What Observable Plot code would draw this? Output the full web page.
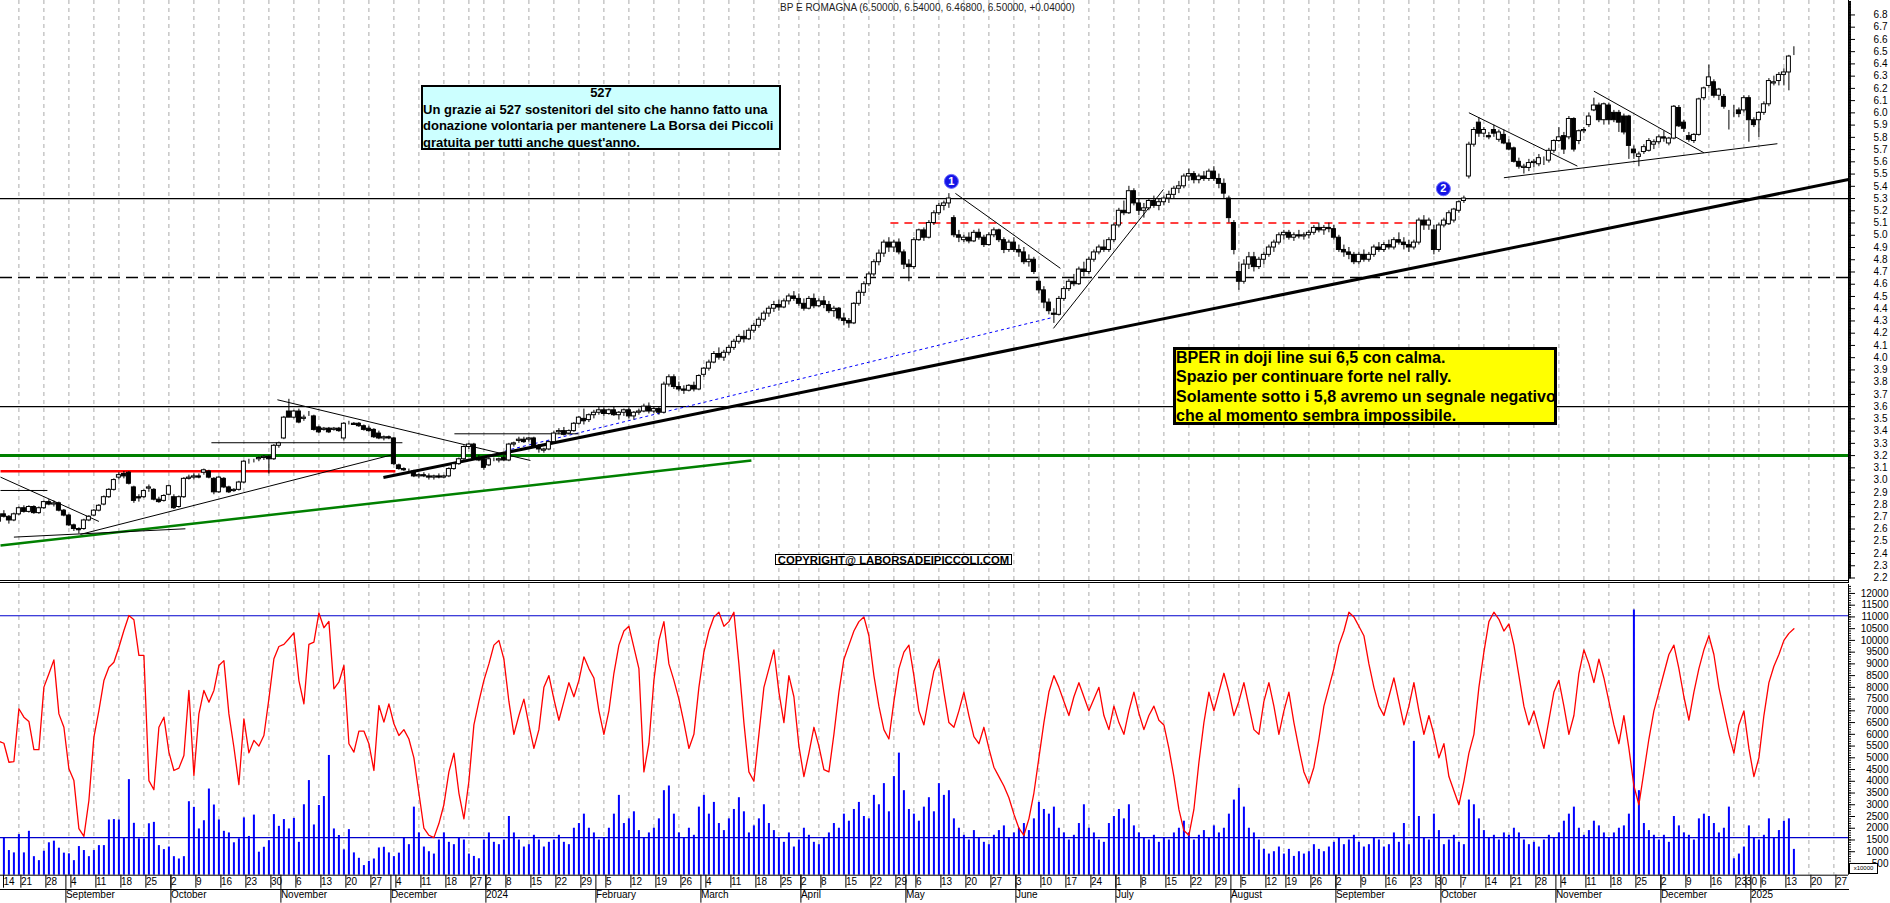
<!DOCTYPE html>
<html><head><meta charset="utf-8">
<script src="https://cdn.jsdelivr.net/npm/d3@7"></script>
<script src="https://cdn.jsdelivr.net/npm/@observablehq/plot@0.6"></script>
<style>
body{margin:0;background:#fff;}
#wrap{position:relative;width:1890px;height:903px;overflow:hidden;font-family:"Liberation Sans",Arial,sans-serif;background:#fff;}
#topc,#botc{position:absolute;left:0;}
#topc{top:0;} #botc{top:584px;}
.hl{position:absolute;left:0;width:1849px;height:1px;background:#000;}
.ov{position:absolute;white-space:nowrap;}
</style></head><body><div id="wrap">
<div id="topc"></div><div id="botc"></div>
<div class="hl" style="top:580px"></div><div class="hl" style="top:582px"></div>
<div class="hl" style="top:889px"></div>
<div class="ov" style="left:780px;top:2px;font-size:10px;color:#222;">BP E ROMAGNA (6.50000, 6.54000, 6.46800, 6.50000, +0.04000)</div>
<div class="ov" style="left:421px;top:85px;width:356px;height:61px;border:2.5px solid #000;background:#ccffff;font-weight:bold;font-size:13px;line-height:16.5px;"><div style="text-align:center;margin-top:-2px;">527</div><div>Un grazie ai 527 sostenitori del sito che hanno fatto una</div><div>donazione volontaria per mantenere La Borsa dei Piccoli</div><div>gratuita per tutti anche quest'anno.</div></div>
<div class="ov" style="left:1173px;top:347px;width:378px;height:72px;border:3px solid #000;background:#ffff00;font-weight:bold;font-size:16px;line-height:19.4px;"><div style="margin-top:-2px;">BPER in doji line sui 6,5 con calma.</div><div>Spazio per continuare forte nel rally.</div><div>Solamente sotto i 5,8 avremo un segnale negativo</div><div>che al momento sembra impossibile.</div></div>
<div class="ov" style="left:775px;top:554px;width:235px;height:9px;border:1.5px solid #000;background:#fff;font-weight:bold;font-size:11.3px;line-height:10px;text-align:center;">COPYRIGHT@ LABORSADEIPICCOLI.COM</div>
<div class="ov" style="left:1849px;top:863px;width:27px;height:9px;border:1px solid #000;background:#fff;font-size:6px;line-height:9px;text-align:center;">x10000</div>
</div>
<script>
// ---- calendar ----
const startDate = "2023-08-14", endDate = "2025-01-31";
const holidays = ["2023-12-25","2023-12-26","2024-01-01","2024-03-29","2024-04-01","2024-05-01","2024-08-15","2024-12-24","2024-12-25","2024-12-26","2024-12-31","2025-01-01"];
const monthNames = ["January","February","March","April","May","June","July","August","September","October","November","December"];

// ---- daily prices (one value per trading day) ----
const open = [
2.70,2.66,2.72,2.70,2.67,2.72,2.77,2.74,2.78,2.73,
2.77,2.82,2.80,2.81,2.75,2.71,2.63,2.60,2.60,2.67,
2.71,2.75,2.80,2.86,2.92,3.02,3.05,3.06,2.94,2.86,
2.86,2.93,2.92,2.84,2.83,2.88,2.86,2.78,2.86,3.01,
3.02,3.03,3.06,3.07,3.01,2.90,3.01,2.94,2.91,2.92,
2.98,3.15,3.16,3.17,3.18,3.19,3.17,3.28,3.34,3.56,
3.51,3.56,3.50,3.54,3.52,3.43,3.41,3.42,3.41,3.42,
3.34,3.46,3.46,3.46,3.44,3.42,3.41,3.38,3.34,3.35,
3.34,3.12,3.09,3.08,3.07,3.03,3.04,3.03,3.02,3.03,
3.02,3.03,3.09,3.13,3.17,3.27,3.29,3.18,3.17,3.12,
3.17,3.16,3.18,3.16,3.29,3.32,3.33,3.33,3.34,3.27,
3.24,3.25,3.31,3.39,3.40,3.38,3.40,3.46,3.50,3.49,
3.53,3.55,3.57,3.54,3.57,3.53,3.55,3.57,3.52,3.55,
3.56,3.60,3.56,3.58,3.55,3.78,3.84,3.76,3.74,3.73,
3.77,3.74,3.86,3.91,3.96,4.03,4.00,4.04,4.08,4.13,
4.17,4.15,4.22,4.26,4.31,4.36,4.40,4.43,4.41,4.46,
4.50,4.48,4.44,4.40,4.48,4.42,4.46,4.43,4.38,4.40,
4.32,4.30,4.28,4.44,4.53,4.60,4.68,4.78,4.85,4.94,
4.90,4.94,4.86,4.76,4.74,4.96,5.04,4.98,5.10,5.18,
5.24,5.26,5.14,5.00,4.96,4.98,4.95,5.02,4.98,4.92,
5.00,5.04,4.96,4.88,4.94,4.88,4.86,4.78,4.80,4.62,
4.55,4.45,4.36,4.35,4.48,4.56,4.62,4.60,4.72,4.70,
4.80,4.86,4.90,4.88,4.96,5.08,5.20,5.18,5.36,5.26,
5.20,5.22,5.28,5.24,5.27,5.30,5.33,5.38,5.40,5.48,
5.50,5.45,5.48,5.46,5.52,5.46,5.42,5.30,5.10,4.70,
4.62,4.76,4.82,4.74,4.80,4.84,4.90,4.94,5.00,5.02,
4.98,5.00,4.99,5.00,5.02,5.06,5.04,5.06,5.05,4.98,
4.88,4.86,4.84,4.78,4.84,4.80,4.84,4.90,4.88,4.92,
4.90,4.96,4.94,4.92,4.90,4.94,5.12,5.08,5.04,4.88,
5.08,5.09,5.12,5.20,5.28,5.48,5.74,5.92,5.83,5.81,
5.86,5.78,5.82,5.75,5.71,5.60,5.55,5.55,5.59,5.58,
5.61,5.61,5.69,5.77,5.81,5.80,5.95,5.77,5.85,5.90,
6.02,6.06,5.94,6.06,6.00,6.00,5.97,5.97,5.70,5.64,
5.68,5.69,5.74,5.76,5.80,5.75,5.79,6.04,5.92,5.81,
5.77,5.82,6.12,6.22,6.25,6.14,6.13,6.00,6.00,6.02,
6.02,6.12,5.94,5.94,6.00,6.07,6.24,6.26,6.31,6.33,6.50];
const high = [
2.72,2.73,2.75,2.71,2.73,2.78,2.79,2.79,2.79,2.78,
2.83,2.84,2.83,2.82,2.76,2.72,2.64,2.61,2.68,2.71,
2.76,2.80,2.87,2.93,3.01,3.06,3.07,3.07,2.95,2.88,
2.92,2.96,2.93,2.86,2.88,2.96,2.88,2.87,3.02,3.04,
3.05,3.05,3.09,3.08,3.02,3.03,3.02,2.95,2.93,2.99,
3.16,3.17,3.17,3.19,3.20,3.20,3.29,3.31,3.52,3.66,
3.57,3.58,3.53,3.56,3.53,3.44,3.43,3.43,3.43,3.43,
3.47,3.48,3.47,3.47,3.45,3.44,3.42,3.40,3.36,3.36,
3.35,3.13,3.10,3.09,3.08,3.05,3.06,3.05,3.04,3.05,
3.04,3.10,3.14,3.18,3.28,3.30,3.30,3.20,3.19,3.19,
3.18,3.18,3.20,3.30,3.31,3.35,3.35,3.35,3.35,3.29,
3.26,3.32,3.40,3.42,3.43,3.41,3.47,3.52,3.58,3.54,
3.57,3.60,3.59,3.58,3.60,3.56,3.58,3.59,3.56,3.58,
3.62,3.63,3.60,3.60,3.80,3.86,3.86,3.80,3.77,3.78,
3.80,3.86,3.92,3.98,4.05,4.08,4.06,4.10,4.15,4.19,
4.22,4.24,4.28,4.33,4.38,4.42,4.46,4.47,4.48,4.52,
4.54,4.52,4.48,4.50,4.52,4.48,4.50,4.46,4.42,4.41,
4.36,4.32,4.45,4.55,4.62,4.70,4.80,4.88,4.96,4.98,
4.96,4.97,4.88,4.80,4.98,5.05,5.06,5.12,5.20,5.26,
5.28,5.34,5.16,5.04,5.00,5.02,5.04,5.05,5.00,5.02,
5.06,5.05,4.98,4.96,4.98,4.92,4.90,4.84,4.82,4.66,
4.58,4.48,4.40,4.50,4.58,4.64,4.68,4.74,4.78,4.82,
4.88,4.92,4.96,4.98,5.10,5.22,5.28,5.40,5.38,5.30,
5.26,5.30,5.32,5.30,5.32,5.36,5.40,5.44,5.50,5.54,
5.52,5.50,5.52,5.54,5.56,5.50,5.46,5.32,5.12,4.78,
4.80,4.86,4.86,4.82,4.86,4.92,4.96,5.02,5.04,5.04,
5.02,5.04,5.02,5.04,5.08,5.10,5.08,5.10,5.08,5.00,
4.92,4.90,4.86,4.86,4.88,4.86,4.92,4.94,4.94,4.96,
4.98,5.02,4.98,4.96,4.96,5.14,5.16,5.14,5.08,5.10,
5.14,5.20,5.22,5.28,5.32,5.76,5.88,5.96,5.88,5.84,
5.90,5.86,5.86,5.78,5.72,5.63,5.58,5.62,5.62,5.66,
5.64,5.71,5.78,5.88,5.84,5.97,5.96,5.86,5.88,6.00,
6.12,6.08,6.08,6.08,6.02,6.02,5.99,5.98,5.73,5.68,
5.74,5.79,5.78,5.82,5.85,5.80,6.06,6.06,5.94,5.84,
5.83,6.12,6.21,6.39,6.27,6.20,6.15,6.02,6.06,6.04,
6.14,6.14,5.96,6.01,6.09,6.28,6.30,6.33,6.36,6.47,6.54];
const low = [
2.66,2.65,2.69,2.64,2.66,2.71,2.73,2.73,2.72,2.72,
2.76,2.79,2.78,2.74,2.70,2.62,2.58,2.56,2.59,2.66,
2.70,2.74,2.79,2.85,2.91,3.00,3.01,2.96,2.81,2.82,
2.85,2.90,2.83,2.81,2.82,2.87,2.76,2.77,2.85,3.00,
3.00,3.01,3.04,3.01,2.88,2.89,2.93,2.89,2.90,2.91,
2.97,3.13,3.14,3.15,3.16,3.05,3.16,3.26,3.33,3.51,
3.50,3.46,3.48,3.52,3.40,3.38,3.40,3.38,3.40,3.39,
3.32,3.45,3.45,3.43,3.40,3.39,3.34,3.33,3.32,3.33,
3.12,3.08,3.07,3.06,3.02,3.01,3.02,3.00,3.00,3.01,
3.01,3.02,3.08,3.12,3.16,3.25,3.17,3.15,3.08,3.11,
3.15,3.14,3.15,3.15,3.27,3.30,3.30,3.31,3.26,3.22,
3.22,3.24,3.30,3.37,3.36,3.37,3.39,3.45,3.45,3.47,
3.50,3.53,3.52,3.53,3.52,3.49,3.52,3.50,3.49,3.53,
3.55,3.54,3.54,3.53,3.54,3.76,3.74,3.72,3.70,3.72,
3.72,3.73,3.84,3.89,3.95,3.98,3.97,4.02,4.06,4.11,
4.12,4.14,4.20,4.24,4.29,4.33,4.37,4.38,4.40,4.43,
4.46,4.42,4.38,4.39,4.40,4.41,4.40,4.36,4.33,4.30,
4.26,4.24,4.27,4.42,4.50,4.58,4.66,4.75,4.82,4.86,
4.86,4.84,4.72,4.62,4.72,4.95,4.95,4.97,5.08,5.16,
5.20,5.22,4.98,4.94,4.94,4.93,4.94,4.96,4.90,4.91,
4.98,4.94,4.85,4.86,4.86,4.82,4.76,4.74,4.68,4.52,
4.40,4.35,4.28,4.34,4.46,4.54,4.58,4.59,4.66,4.68,
4.78,4.84,4.86,4.86,4.94,5.06,5.16,5.17,5.24,5.16,
5.14,5.20,5.22,5.20,5.24,5.26,5.30,5.34,5.38,5.44,
5.42,5.42,5.44,5.44,5.44,5.38,5.30,5.10,4.84,4.55,
4.60,4.72,4.70,4.72,4.76,4.82,4.86,4.92,4.96,4.96,
4.95,4.97,4.96,4.97,5.00,5.02,5.00,5.02,4.96,4.86,
4.82,4.80,4.76,4.76,4.78,4.78,4.82,4.86,4.86,4.88,
4.88,4.92,4.88,4.86,4.88,4.92,5.04,5.04,4.84,4.86,
5.06,5.08,5.10,5.18,5.26,5.46,5.72,5.80,5.80,5.78,
5.80,5.76,5.74,5.69,5.59,5.54,5.50,5.52,5.55,5.56,
5.57,5.59,5.67,5.76,5.66,5.78,5.68,5.74,5.83,5.88,
6.01,5.92,5.90,5.90,5.92,5.84,5.82,5.62,5.62,5.56,
5.66,5.68,5.70,5.74,5.76,5.73,5.78,5.88,5.84,5.76,
5.75,5.81,6.10,6.20,6.12,6.10,6.03,5.86,5.96,5.96,
6.00,5.76,5.88,5.80,5.98,6.05,6.22,6.22,6.22,6.18,6.468];
const close = [
2.68,2.72,2.70,2.67,2.72,2.77,2.74,2.78,2.73,2.77,
2.82,2.80,2.81,2.75,2.71,2.63,2.60,2.59,2.67,2.70,
2.75,2.79,2.86,2.92,3.00,3.04,3.03,2.97,2.83,2.85,
2.91,2.94,2.84,2.82,2.87,2.95,2.77,2.86,3.01,3.02,
3.03,3.02,3.08,3.02,2.90,3.02,2.94,2.90,2.92,2.98,
3.15,3.15,3.16,3.18,3.19,3.17,3.28,3.30,3.51,3.51,
3.56,3.47,3.51,3.54,3.41,3.39,3.42,3.39,3.42,3.40,
3.46,3.46,3.45,3.44,3.41,3.40,3.35,3.34,3.35,3.34,
3.13,3.09,3.08,3.08,3.03,3.04,3.03,3.02,3.03,3.02,
3.03,3.09,3.13,3.17,3.27,3.29,3.18,3.16,3.10,3.17,
3.17,3.17,3.16,3.29,3.30,3.33,3.31,3.34,3.27,3.25,
3.25,3.31,3.38,3.40,3.37,3.40,3.46,3.51,3.48,3.53,
3.55,3.57,3.54,3.57,3.53,3.55,3.57,3.52,3.55,3.56,
3.60,3.56,3.58,3.55,3.78,3.84,3.76,3.74,3.73,3.77,
3.74,3.85,3.91,3.96,4.03,4.00,4.04,4.08,4.13,4.17,
4.15,4.22,4.26,4.31,4.36,4.40,4.43,4.41,4.46,4.50,
4.48,4.44,4.40,4.48,4.42,4.46,4.43,4.38,4.40,4.32,
4.30,4.28,4.44,4.53,4.60,4.68,4.78,4.85,4.94,4.90,
4.94,4.86,4.76,4.74,4.96,5.04,4.98,5.10,5.18,5.24,
5.26,5.30,5.00,4.98,4.98,4.95,5.02,4.98,4.92,5.00,
5.04,4.96,4.88,4.94,4.88,4.86,4.78,4.80,4.70,4.55,
4.45,4.38,4.35,4.48,4.56,4.62,4.60,4.72,4.70,4.80,
4.86,4.90,4.88,4.96,5.08,5.20,5.18,5.36,5.26,5.20,
5.22,5.28,5.24,5.27,5.30,5.33,5.38,5.40,5.48,5.50,
5.45,5.48,5.46,5.52,5.46,5.42,5.34,5.14,4.88,4.62,
4.76,4.82,4.74,4.80,4.84,4.90,4.94,5.00,5.02,4.98,
5.00,4.99,5.00,5.02,5.06,5.04,5.06,5.05,4.98,4.88,
4.86,4.84,4.78,4.84,4.80,4.84,4.90,4.88,4.92,4.90,
4.96,4.94,4.92,4.90,4.94,5.12,5.08,5.12,4.88,5.08,
5.12,5.18,5.21,5.27,5.30,5.74,5.86,5.83,5.86,5.80,
5.83,5.84,5.75,5.70,5.60,5.56,5.56,5.59,5.60,5.63,
5.61,5.69,5.77,5.80,5.70,5.95,5.70,5.85,5.86,5.97,
6.06,5.94,6.07,5.94,5.94,5.92,5.84,5.73,5.67,5.66,
5.72,5.77,5.76,5.80,5.79,5.79,6.05,5.89,5.87,5.78,
5.82,6.11,6.20,6.29,6.14,6.19,6.05,6.00,6.00,5.99,
6.12,5.94,5.90,6.00,6.07,6.26,6.25,6.31,6.33,6.46,6.50];
const volume = [1500,1400,1590,1050,950,1730,950,1870,790,620,1020,1380,1450,1150,940,910,620,1220,1050,790,1050,1260,1260,2350,2370,2350,1590,4070,2210,1550,1550,2190,2250,1260,1090,1200,790,690,790,3130,2890,1970,2320,3670,2990,2350,1870,1800,1380,1550,2440,1650,2560,980,1190,1470,2580,2080,2370,1970,2420,1400,3000,4030,2140,2970,3350,5100,1970,1690,1080,1940,950,720,410,590,690,1160,1190,950,790,940,1600,1300,2900,1800,1200,1000,900,1500,1800,1400,1300,1600,1500,900,800,700,1500,1800,1400,1300,1500,2500,1800,1500,1200,1300,1700,1500,1200,1400,1500,1700,1400,1300,2000,2200,2600,2000,1800,1500,1600,2000,2600,3400,2200,2400,2700,1900,1600,1800,2000,2400,3600,3800,2600,1800,1600,2000,1700,2900,3400,2600,3100,2200,1900,2400,2800,3300,2700,1800,2100,2400,3000,2200,1900,1600,1400,1800,1200,1500,2000,1700,1400,1300,1600,1800,2200,2000,2600,2300,2800,3100,2500,2400,3400,3000,3900,2700,4200,5200,3600,2800,2600,2300,2900,3300,2700,3900,3400,3600,2400,2000,1700,1500,1900,1600,1400,1300,1700,1900,2100,1600,1800,2000,2200,1900,2400,3100,2800,2600,2900,2000,1800,1500,1700,2200,3000,2000,1800,1500,1400,2200,2500,2800,2400,3000,2100,1800,1600,1500,1700,1400,1600,1500,1800,2000,2300,1800,1500,1700,1900,1600,2100,1800,2000,2600,3200,3700,2900,2000,1800,1500,1100,900,1000,1200,900,1100,800,1000,900,1000,1300,1100,1000,1200,1400,1600,1300,1500,1700,1400,1200,1300,1600,1500,1200,1300,1800,1400,2200,1300,5700,2500,1600,1500,2600,1900,1300,1500,1700,1400,1300,3200,3000,2400,1900,1600,1700,1500,1800,1700,2000,1800,1500,1300,1400,1200,1500,1700,1600,1800,2300,2600,2900,2000,1700,1900,2300,2100,1800,1600,1800,2000,2100,2600,11300,3600,2200,1900,1700,1500,1700,1400,2500,2100,1800,1700,1500,2400,2600,2500,2200,1800,2000,2900,700,900,1200,2100,1600,1500,1700,2400,1600,1900,2300,2400,1100];
const osc = [5600,5700,5620,4810,4840,7090,6730,6550,5350,5350,8010,8580,9170,6870,6300,4530,4030,1980,1650,3180,5880,7010,8290,8860,9070,9710,10420,11060,10880,9360,9360,4030,3640,6300,6730,5240,4460,4560,5100,7870,4250,6870,7870,7370,7870,8930,9140,6870,5450,3860,6660,5210,5740,5500,5950,7510,9220,9740,9830,10070,10320,8290,7300,9830,9930,11170,10540,10810,7940,8220,8930,5600,5240,6140,6140,5600,4460,7230,6520,7300,6450,5950,6200,5800,5000,3500,2000,1700,1600,2200,3000,4400,5200,3500,2400,4000,6400,7400,8300,9000,9800,10000,9200,7400,6000,6800,7500,6400,5400,6200,8000,8500,7500,6600,7400,8200,7600,8300,9300,8800,8400,7000,6000,7000,8600,9800,10400,10600,9700,8800,4400,5600,8300,10000,10800,9000,8300,7500,6500,5400,6000,8000,9500,10400,11000,11200,10600,10800,11200,9000,6500,4400,4000,6000,8000,8800,9600,7800,6500,8500,7600,5500,4200,5200,6300,5500,4500,4400,6000,7800,9200,9800,10400,10800,11000,10200,8500,7200,6200,5800,7400,8800,9500,9800,8500,7000,6400,7600,8700,9200,7800,6500,6300,7000,7800,6800,5900,5600,6300,5400,4600,4200,3800,3300,2600,2000,1700,2400,3500,5000,6500,7800,8500,8000,7400,6800,7600,8200,7600,7000,7500,8000,6800,6200,7200,6500,6000,7000,7800,6900,6200,6800,7200,6600,6400,5400,4200,2800,1900,1700,2800,4800,6500,7800,7000,7800,8600,7800,6800,7400,8200,7200,6200,6000,7400,8200,7200,6000,7000,7800,6500,5400,4400,3900,4600,5800,7200,8000,8800,9800,10400,11200,11000,10600,10200,9000,8000,7200,6800,7600,8400,7400,6400,7200,8200,7000,6000,6800,6000,5000,5600,4200,3600,3000,4000,5200,6000,8000,9500,10800,11200,10900,10400,10700,9800,8500,7200,6400,7000,6200,5400,6600,7800,8300,7200,6000,6800,8600,9600,9000,8200,9200,8400,7400,6400,5600,6800,5400,3800,3000,4400,5800,7000,7800,8600,9400,9800,8800,7600,6600,7800,8800,9600,10200,9400,8000,7000,6000,5200,6400,7000,5400,4200,5000,6800,8200,8900,9400,10000,10300,10500];

// ---- levels and drawn lines (trading-day index, price) ----
const blackLevels = [5.30, 3.60];
const greenLevels = [3.20];
const dashedLevels = [4.655];
const oscLevels = [11050, 1600];
const thinLines = [
  {x1:1.32,p1:2.915,x2:10.7,p2:2.915},
  {x1:1.32,p1:3.024,x2:21.0,p2:2.662},
  {x1:4.0,p1:2.534,x2:38.3,p2:2.602},
  {x1:17.3,p1:2.556,x2:80.0,p2:3.21},
  {x1:43.5,p1:3.305,x2:81.7,p2:3.305},
  {x1:56.7,p1:3.656,x2:107.3,p2:3.16},
  {x1:92.1,p1:3.378,x2:116.9,p2:3.378},
  {x1:192.3,p1:5.342,x2:213.3,p2:4.73},
  {x1:211.9,p1:4.239,x2:233.9,p2:5.374},
  {x1:295.0,p1:6.001,x2:316.7,p2:5.565},
  {x1:302.0,p1:5.47,x2:356.7,p2:5.748},
  {x1:320.0,p1:6.177,x2:342.0,p2:5.674}
];
const thickLines = [{x1:77.9,p1:3.021,x2:370.92,p2:5.456}];
const greenLines = [{x1:1.32,p1:2.466,x2:151.5,p2:3.16}];
const redLines = [{x1:1.32,p1:3.073,x2:80.3,p2:3.073}];
const redDashed = [{x1:179.3,p1:5.10,x2:288.1,p2:5.10}];
const blueDotted = [{x1:102.3,p1:3.24,x2:211.9,p2:4.33}];
const markers = [{i:191.5,p:5.44,label:"1"},{i:289.9,p:5.38,label:"2"}];

// ---- build ----
const days = [];
for (let t = Date.parse(startDate); t <= Date.parse(endDate); t += 864e5) {
  const d = new Date(t), wd = d.getUTCDay(), s = d.toISOString().slice(0,10);
  if (wd === 0 || wd === 6 || holidays.includes(s)) continue;
  days.push(d);
}
const xMin = 1.32, xMax = 370.92;
const weekTicks = [], monthTicks = [];
days.forEach((d, i) => {
  if (i === 0 || d.getUTCDay() <= days[i-1].getUTCDay()) weekTicks.push({i, label: String(d.getUTCDate())});
  if (i > 0 && d.getUTCMonth() !== days[i-1].getUTCMonth()) monthTicks.push({i, label: d.getUTCMonth() === 0 ? String(d.getUTCFullYear()) : monthNames[d.getUTCMonth()]});
});
const gridIdx = weekTicks.map(d => d.i).filter(i => i >= xMin && i <= xMax);
const weekLab = new Map(weekTicks.filter(d => d.i <= xMax - 1).map(d => [Math.max(d.i, xMin + 0.2), d.label]));
const monthLab = new Map(monthTicks.filter(d => d.i >= xMin && d.i <= xMax).map(d => [d.i, d.label]));

const bars = close.map((c, i) => ({i, o: open[i], h: high[i], l: low[i], c, v: volume[i], s: osc[i]}));

const font = {fontFamily: "'Liberation Sans', Arial, sans-serif", fontSize: "10px", background: "transparent", color: "#000"};
const pTicks = d3.range(22, 69).map(d => d / 10);
const pMinor = d3.range(440, 1384).map(d => d / 200).filter(d => d >= 2.16 && d <= 6.91);
const vTicks = d3.range(500, 12001, 500);
const vMinor = d3.range(1, 124).map(d => d * 100);
const lk = {x1: "x1", y1: "p1", x2: "x2", y2: "p2"};

const priceChart = Plot.plot({
  width: 1890, height: 583, marginLeft: 0, marginRight: 42, marginTop: 0, marginBottom: 0,
  style: font,
  x: {domain: [xMin, xMax], axis: null},
  y: {domain: [2.155, 6.918]},
  marks: [
    Plot.ruleX(gridIdx, {x: d => d, stroke: "#aaa", strokeDasharray: "4,4"}),
    Plot.ruleY(blackLevels, {y: d => d, x1: xMin, x2: xMax, stroke: "#000", strokeWidth: 1.2}),
    Plot.ruleY(dashedLevels, {y: d => d, x1: xMin, x2: xMax, stroke: "#000", strokeWidth: 1.3, strokeDasharray: "12,6"}),
    Plot.ruleY(greenLevels, {y: d => d, x1: xMin, x2: xMax, stroke: "#008000", strokeWidth: 3}),
    Plot.link(greenLines, {...lk, stroke: "#008000", strokeWidth: 2.5}),
    Plot.link(redLines, {...lk, stroke: "#ff0000", strokeWidth: 2.5}),
    Plot.link(redDashed, {...lk, stroke: "#ff0000", strokeWidth: 1.5, strokeDasharray: "8,6"}),
    Plot.link(blueDotted, {...lk, stroke: "#0000ff", strokeWidth: 1, strokeDasharray: "3,3"}),
    Plot.link(thickLines, {...lk, stroke: "#000", strokeWidth: 3}),
    Plot.link(thinLines, {...lk, stroke: "#000", strokeWidth: 1}),
    Plot.ruleX(bars, {x: "i", y1: "l", y2: "h", stroke: "#000", strokeWidth: 1}),
    Plot.rect(bars, {x1: d => d.i - 0.4, x2: d => d.i + 0.4, y1: "o", y2: "c", fill: d => d.c >= d.o ? "#fff" : "#000", stroke: "#000", strokeWidth: 1}),
    Plot.dot(markers, {x: "i", y: "p", r: 7, fill: "#1414e6", stroke: "#6a6aff", strokeWidth: 1}),
    Plot.text(markers, {x: "i", y: "p", text: "label", fill: "#fff", fontWeight: "bold", fontSize: 11}),
    Plot.ruleX([xMax], {stroke: "#000"}),
    Plot.ruleY(pMinor, {y: d => d, x1: xMax, x2: xMax + 0.6, stroke: "#000"}),
    Plot.axisY(pTicks, {anchor: "right", tickSize: 6, tickPadding: 33, textAnchor: "end", label: null, tickFormat: d => d.toFixed(1), fontSize: 10})
  ]
});
document.getElementById("topc").append(priceChart);

const volChart = Plot.plot({
  width: 1890, height: 319, marginLeft: 0, marginRight: 42, marginTop: 0, marginBottom: 28.3,
  style: font,
  x: {domain: [xMin, xMax]},
  y: {domain: [0, 12381]},
  marks: [
    Plot.ruleX(gridIdx, {x: d => d, stroke: "#aaa", strokeDasharray: "4,4"}),
    Plot.ruleX(bars, {x: "i", y1: 0, y2: "v", stroke: "#0000ff", strokeWidth: 2}),
    Plot.ruleY(oscLevels, {y: d => d, x1: xMin, x2: xMax, stroke: "#0000cc", strokeWidth: 1.2}),
    Plot.line(bars, {x: "i", y: "s", stroke: "#ff0000", strokeWidth: 1.3}),
    Plot.ruleY([0], {x1: xMin, x2: xMax, stroke: "#000"}),
    Plot.ruleX([xMax], {stroke: "#000"}),
    Plot.ruleY(vMinor, {y: d => d, x1: xMax, x2: xMax + 0.6, stroke: "#000"}),
    Plot.axisY(vTicks, {anchor: "right", tickSize: 6, tickPadding: 34, textAnchor: "end", label: null, tickFormat: d => String(d), fontSize: 10}),
    Plot.axisX([...weekLab.keys()], {anchor: "bottom", tickSize: 13, tickPadding: -10, textAnchor: "start", dx: 2, label: null, tickFormat: d => weekLab.get(d), fontSize: 10}),
    Plot.axisX([...monthLab.keys()], {anchor: "bottom", tickSize: 28, tickPadding: -12, textAnchor: "start", dx: 2, label: null, tickFormat: d => monthLab.get(d), fontSize: 10})
  ]
});
document.getElementById("botc").append(volChart);
</script></body></html>
